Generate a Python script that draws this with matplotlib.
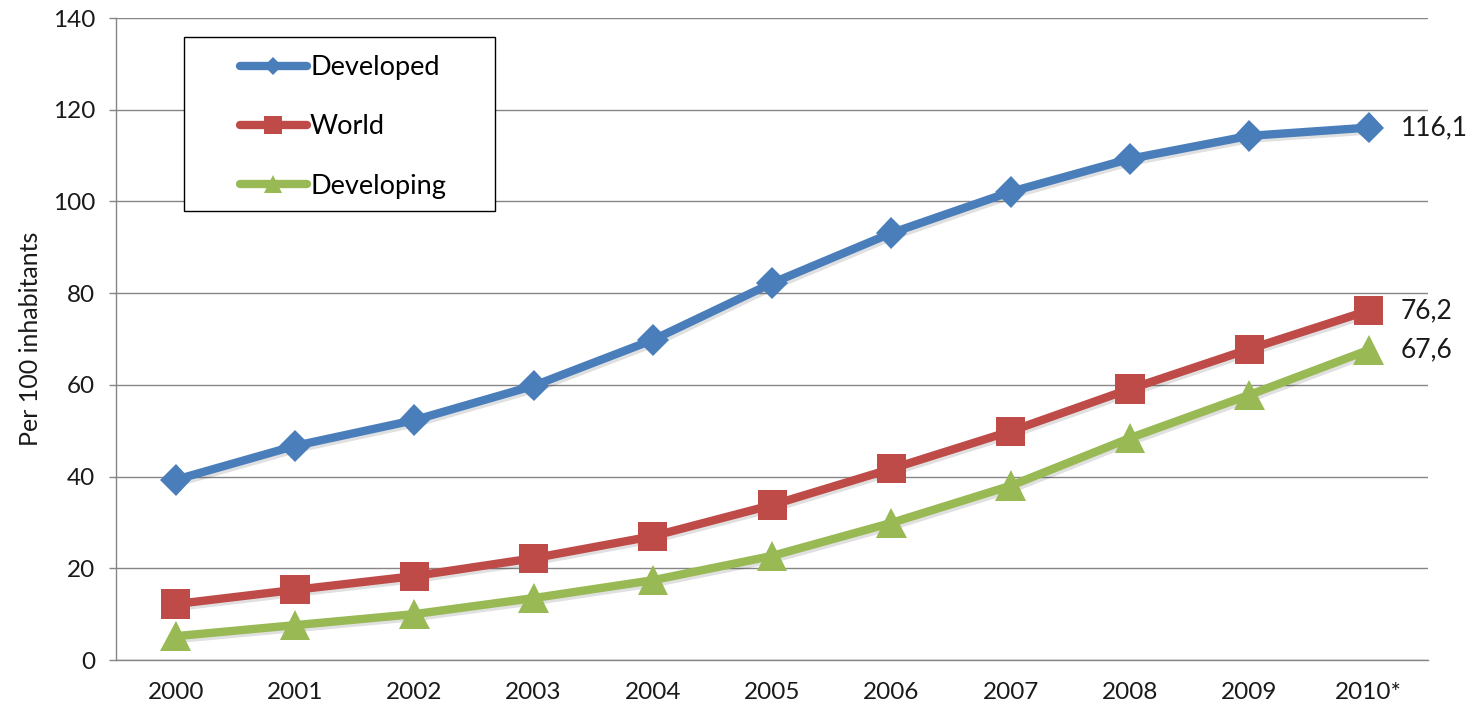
import matplotlib
matplotlib.use("Agg")
import matplotlib.pyplot as plt
import matplotlib.patheffects as pe
from matplotlib.patches import Rectangle

plt.rcParams['font.family'] = ['Lato', 'DejaVu Sans']

# ----------------- Data -----------------
years = ["2000", "2001", "2002", "2003", "2004", "2005",
         "2006", "2007", "2008", "2009", "2010*"]
developed = [39.3, 46.7, 52.3, 59.8, 69.8, 82.2, 93.1, 102.1, 109.3, 114.3, 116.1]
world = [12.2, 15.3, 18.3, 22.2, 27.0, 33.8, 41.7, 49.9, 59.1, 67.8, 76.2]
developing = [5.2, 7.6, 10.0, 13.5, 17.4, 22.7, 29.9, 38.0, 48.4, 57.8, 67.6]
end_labels = ["116,1", "76,2", "67,6"]

series = [
    ("Developed", developed, "#4A7EBB", "D", 16),
    ("World", world, "#BE4B48", "s", 21),
    ("Developing", developing, "#98B954", "^", 22),
]

fig = plt.figure(figsize=(14.76, 7.09), dpi=100)
ax = fig.add_axes([0.0786, 0.0691, 0.889, 0.9055])

x = list(range(len(years)))
shadow = [pe.SimpleLineShadow(offset=(1.5, -2), alpha=0.12, shadow_color="black"),
          pe.Normal()]

handles = []
for name, vals, color, marker, ms in series:
    line, = ax.plot(x, vals, color=color, lw=6, marker=marker, markersize=ms,
                    markeredgewidth=0, solid_capstyle="round",
                    solid_joinstyle="round", label=name, zorder=3,
                    path_effects=shadow)
    handles.append(line)

# end-of-series value labels
for (name, vals, color, marker, ms), txt in zip(series, end_labels):
    ax.annotate(txt, (x[-1], vals[-1]), xytext=(23, 0),
                textcoords="offset points", va="center", ha="left",
                fontsize=19, color="#1a1a1a", annotation_clip=False)

ax.set_xlim(-0.5, len(years) - 0.5)
ax.set_ylim(0, 140)
ax.set_yticks(range(0, 141, 20))
ax.set_xticks(x)
ax.set_xticklabels(years)
ax.tick_params(axis="x", length=0, pad=16, labelsize=17.5, colors="#1a1a1a")
ax.tick_params(axis="y", length=5, width=1, color="#868686", pad=10,
               labelsize=17.5, labelcolor="#1a1a1a")
ax.set_ylabel("Per 100 inhabitants", fontsize=18, color="#1a1a1a", labelpad=8)

ax.grid(axis="y", color="#868686", lw=1)
ax.set_axisbelow(True)
for side in ["top", "right"]:
    ax.spines[side].set_visible(False)
for side in ["left", "bottom"]:
    ax.spines[side].set_color("#868686")
    ax.spines[side].set_linewidth(1)

# legend frame + legend
ax.add_patch(Rectangle((0.0518, 0.699), 0.2370, 0.271, transform=ax.transAxes,
                       facecolor="white", edgecolor="black", lw=1, zorder=4,
                       clip_on=False))
leg = ax.legend(handles=handles, loc="upper left",
                bbox_to_anchor=(0.0777, 0.976), frameon=False, fontsize=19.5,
                handlelength=2.5, handletextpad=0.1, labelspacing=1.27,
                markerscale=0.6, borderpad=0.3)
leg.set_zorder(5)
for h in leg.legend_handles:
    h.set_path_effects([])
    h.set_solid_capstyle("round")

fig.savefig("out.png", dpi=100)
